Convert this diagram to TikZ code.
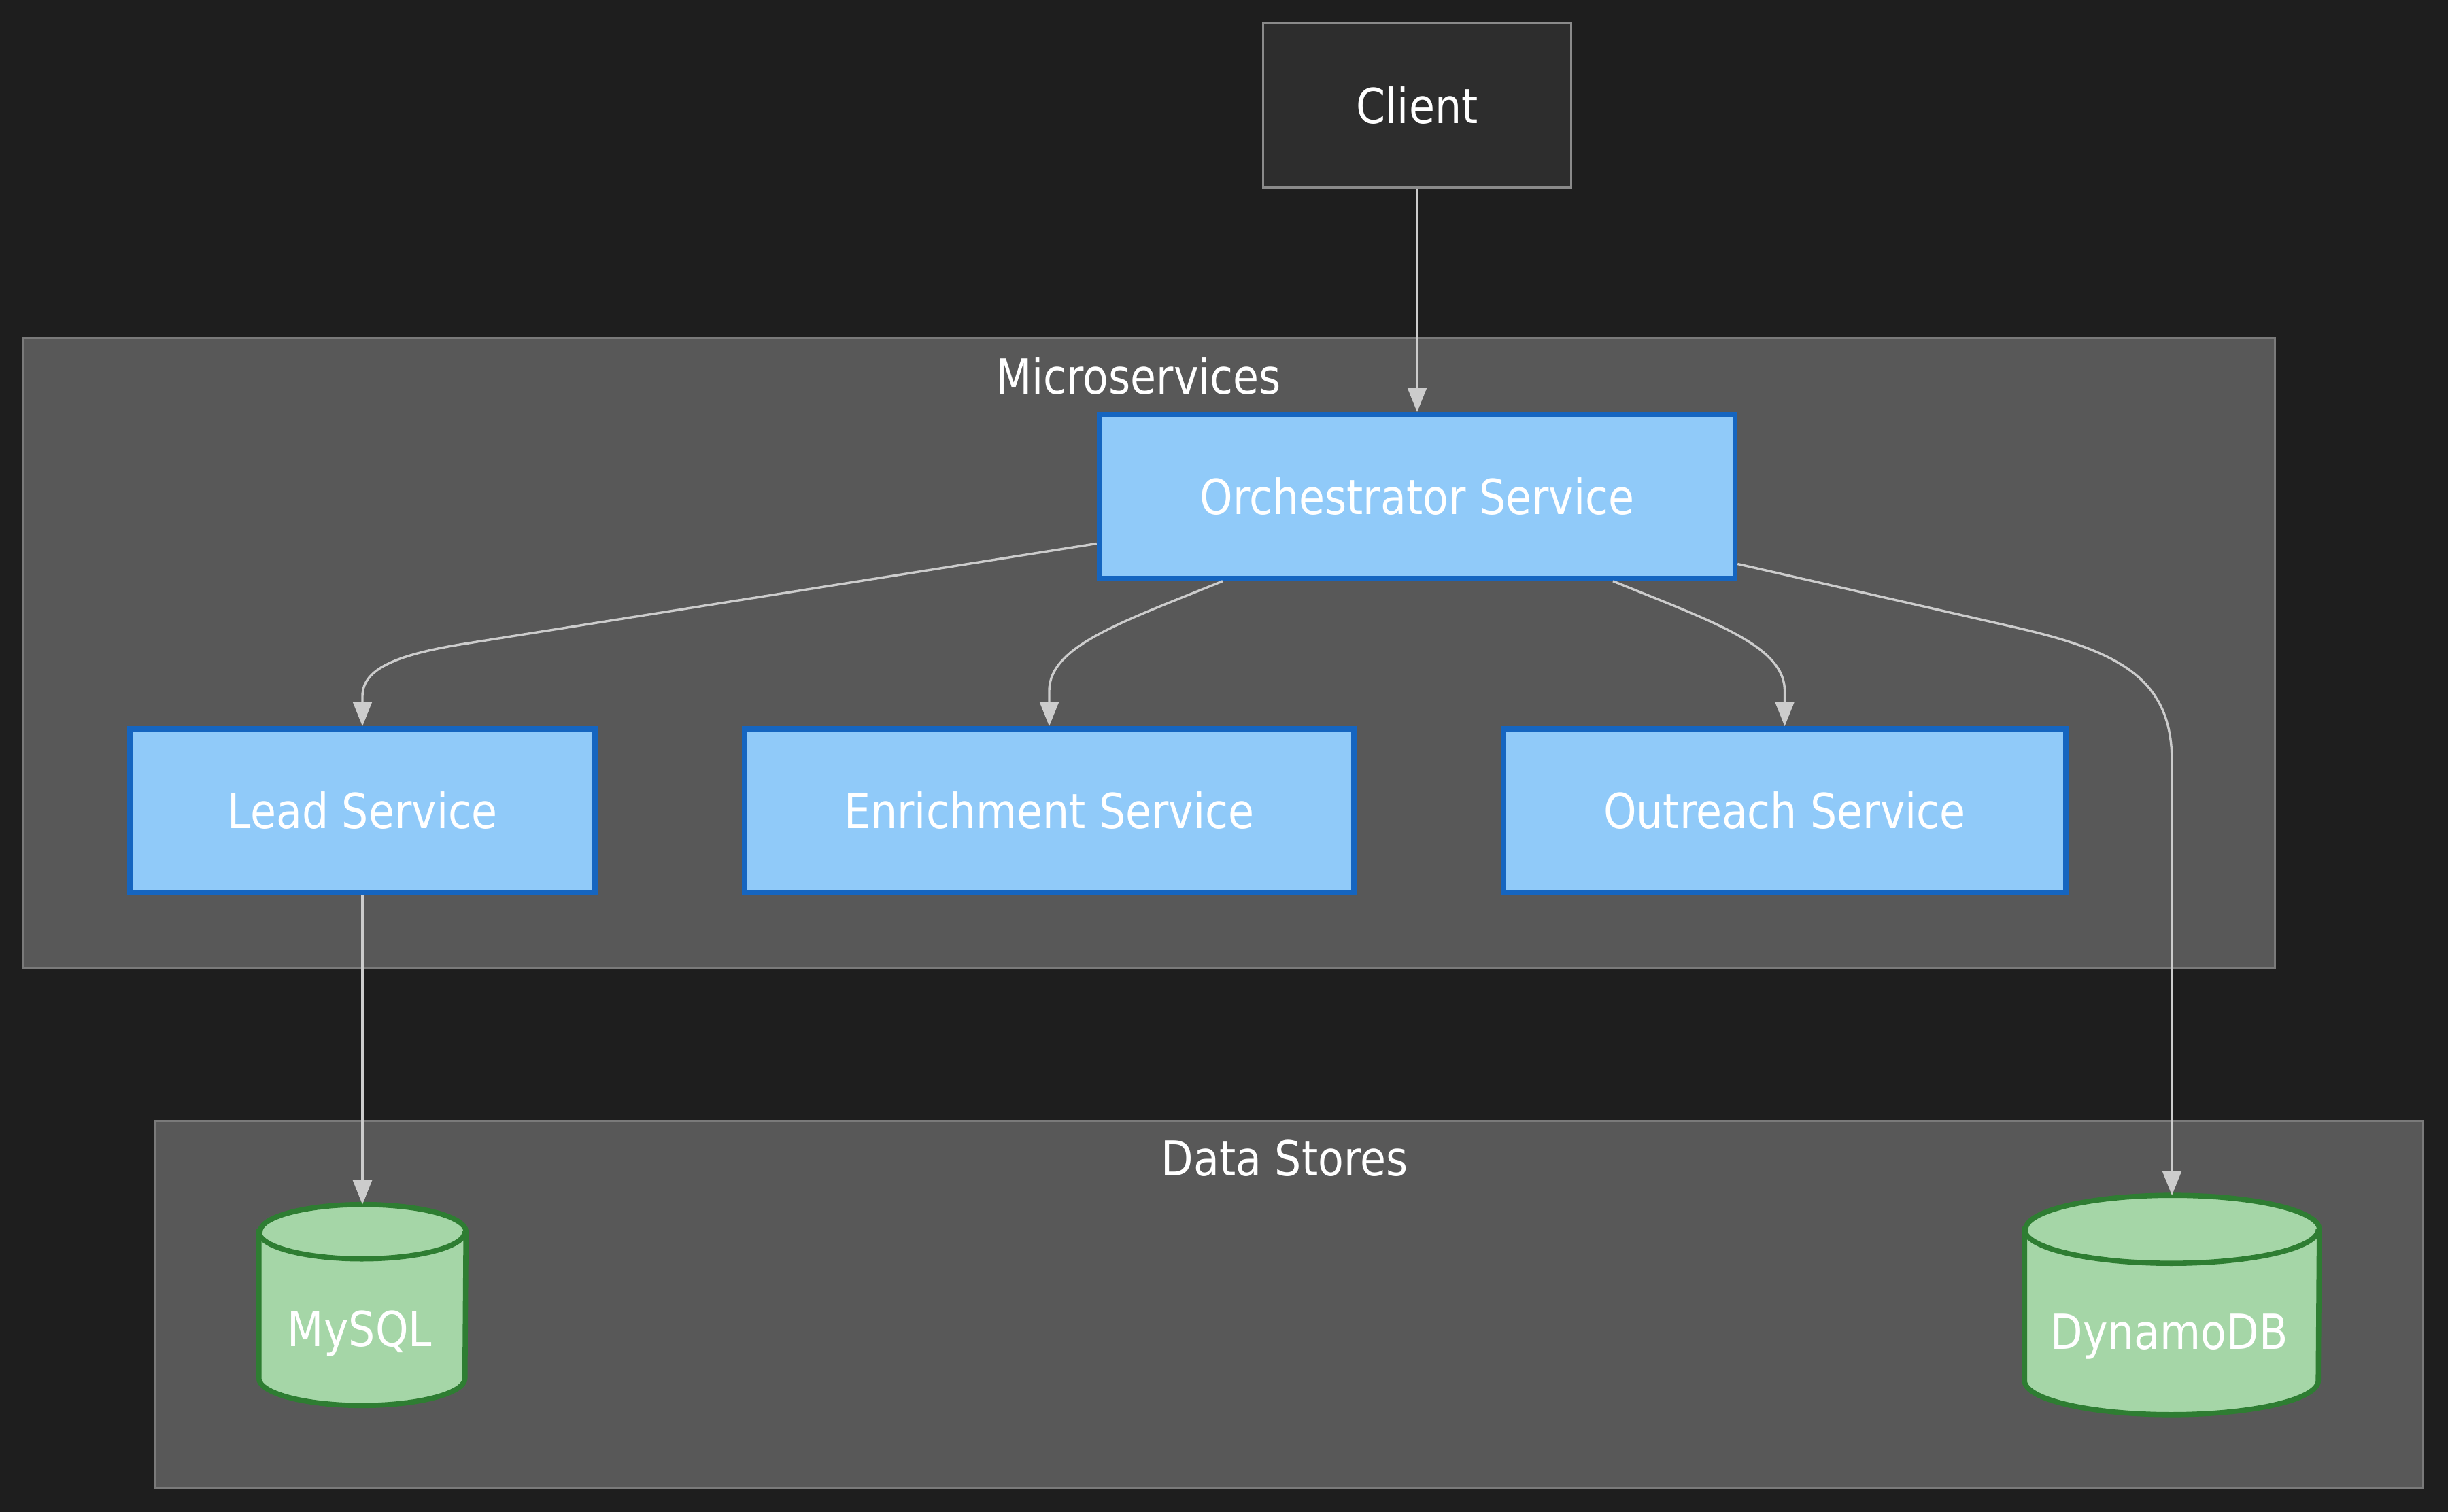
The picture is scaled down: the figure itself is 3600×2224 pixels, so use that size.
\documentclass[tikz,border=0pt]{standalone}
\usepackage{fontspec}
\setmainfont{DejaVu Sans}[FakeStretch=0.87]
\usetikzlibrary{arrows.meta,calc}
\definecolor{bgc}{HTML}{1E1E1E}
\definecolor{clusterfill}{HTML}{585858}
\definecolor{clusterline}{HTML}{7A7A7A}
\definecolor{clientfill}{HTML}{2D2D2D}
\definecolor{clientline}{HTML}{8A8A8A}
\definecolor{svcfill}{HTML}{90CAF9}
\definecolor{svcline}{HTML}{1565C0}
\definecolor{dbfill}{HTML}{A5D6A7}
\definecolor{dbline}{HTML}{2E7D32}
\definecolor{edgec}{HTML}{CCCCCC}
\newcommand{\drawdbcyl}[3]{%
  \path[dbshape] ([yshift=-#3]#1.north west) -- ([yshift=#3]#1.south west)
    arc[start angle=180,end angle=360,x radius=#2,y radius=#3]
    -- ([yshift=-#3]#1.north east)
    arc[start angle=0,end angle=180,x radius=#2,y radius=#3] -- cycle;
  \draw[dbshape,fill=none] ([yshift=-#3]#1.north west)
    arc[start angle=180,end angle=360,x radius=#2,y radius=#3];
}
\begin{document}
\begin{tikzpicture}[x=0.25pt,y=-0.25pt,
  lbl/.style={text=white,font=\fontsize{17.75pt}{21pt}\selectfont},
  cluster/.style={draw=clusterline,fill=clusterfill,line width=0.75pt,inner sep=0pt},
  clientbox/.style={draw=clientline,fill=clientfill,line width=0.85pt,minimum width=113.25pt,minimum height=60.5pt,inner sep=0pt,lbl},
  svc/.style={draw=svcline,fill=svcfill,line width=1.9pt,minimum height=60.25pt,inner sep=0pt,lbl},
  dbbox/.style={inner sep=0pt},
  dbshape/.style={draw=dbline,fill=dbfill,line width=1.9pt},
  edge/.style={draw=edgec,line width=0.85pt,-{Triangle[length=9pt,width=7pt]}}
]
\fill[bgc] (0,0) rectangle (3600,2224);
\useasboundingbox (0,0) rectangle (3600,2224);

% clusters
\node[cluster,minimum width=827.75pt,minimum height=231.5pt] (micro) at (1689.5,961) {};
\node[lbl] (microt) at (1674,553) {Microservices};
\node[cluster,minimum width=834pt,minimum height=134.75pt] (stores) at (1895,1918.5) {};
\node[lbl] (storest) at (1889,1704) {Data Stores};

% nodes
\node[clientbox] (client) at (2084,155) {Client};
\node[svc,minimum width=233.75pt] (orch) at (2084,730.5) {Orchestrator Service};
\node[svc,minimum width=171pt] (lead) at (533,1192.5) {Lead Service};
\node[svc,minimum width=224pt] (enrich) at (1543,1192.5) {Enrichment Service};
\node[svc,minimum width=206.75pt] (outreach) at (2624.5,1192.5) {Outreach Service};

% data stores
\node[dbbox,minimum width=75.75pt,minimum height=73.5pt] (mysql) at (533,1919.5) {};
\drawdbcyl{mysql}{37.875pt}{10pt}
\node[lbl] (mysqll) at (529,1962) {MySQL};
\node[dbbox,minimum width=108pt,minimum height=80.25pt] (dynamo) at (3194,1919.5) {};
\drawdbcyl{dynamo}{54pt}{12.5pt}
\node[lbl] (dynamol) at (3190,1966) {DynamoDB};

% edges
\draw[edge] (client) -- (orch);
\draw[edge] ([yshift=-17.25pt]orch.west) -- (689,946)
  .. controls (579,963) and (533,985) .. ([yshift=11pt]lead.north) -- (lead.north);
\draw[edge] ([xshift=-71.5pt]orch.south)
  .. controls (1650,915) and (1543,950) .. ([yshift=13pt]enrich.north) -- (enrich.north);
\draw[edge] ([xshift=72pt]orch.south)
  .. controls (2520,915) and (2624.5,950) .. ([yshift=13pt]outreach.north) -- (outreach.north);
\draw[edge] ([yshift=-24.75pt]orch.east) -- (2960,922)
  .. controls (3120,958) and (3194,1000) .. (3194,1120) -- (dynamo.north);
\draw[edge] (lead) -- (mysql);
\end{tikzpicture}
\end{document}
